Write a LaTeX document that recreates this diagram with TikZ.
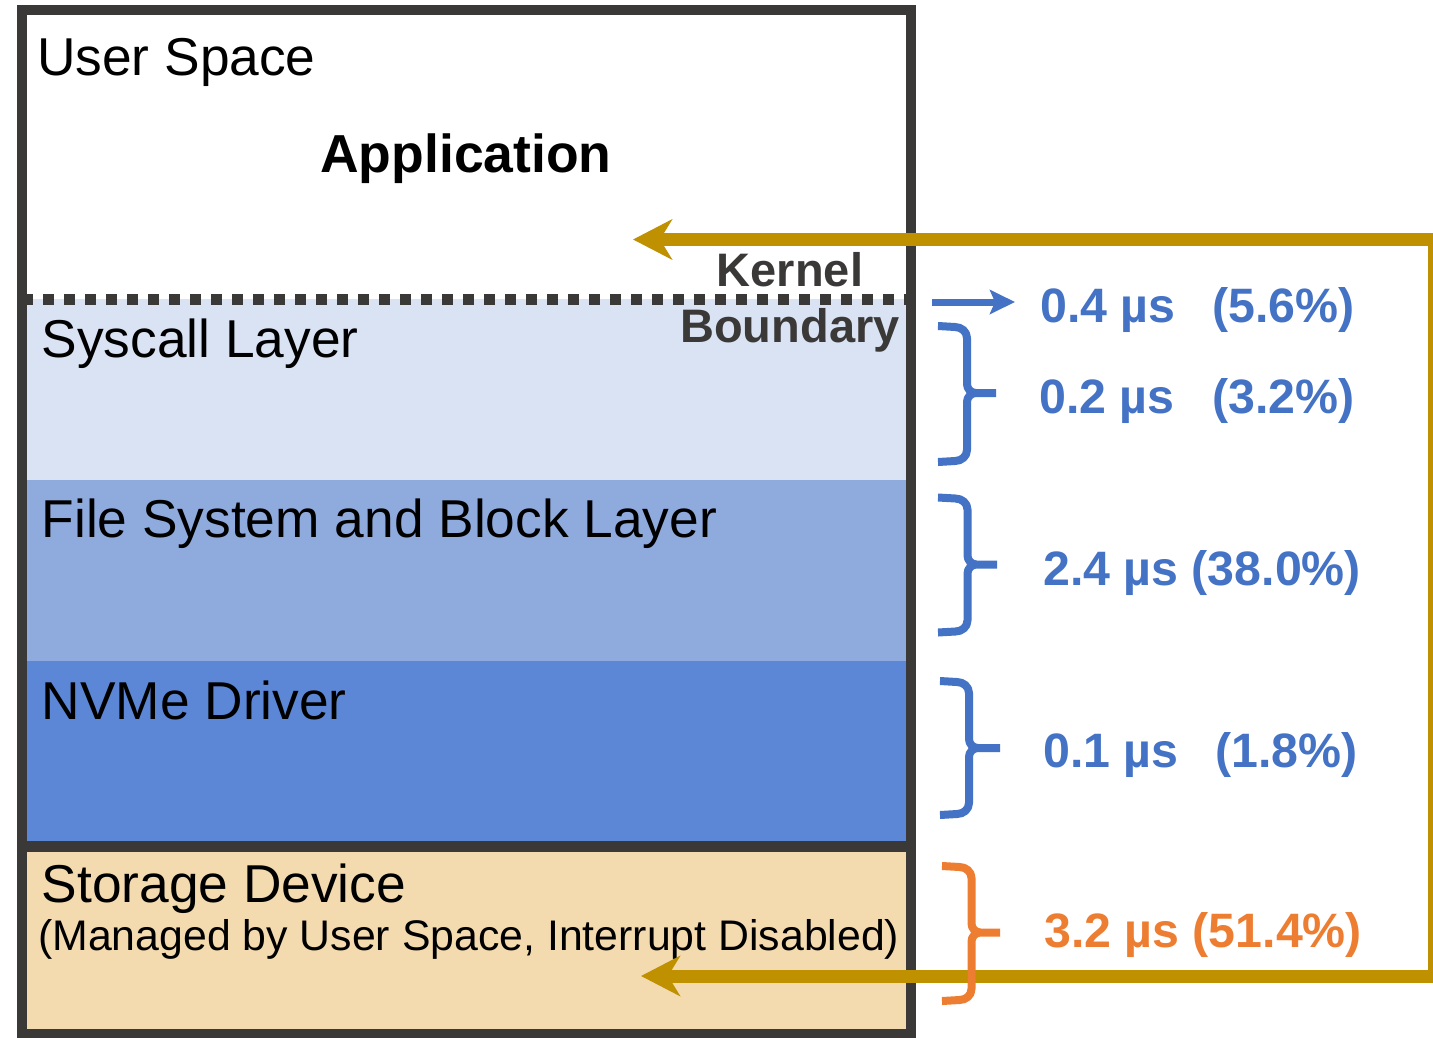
\documentclass[tikz,border=0pt]{standalone}
\usepackage{fontspec}
\setmainfont{Liberation Sans}
\usetikzlibrary{arrows.meta}
\definecolor{darkline}{HTML}{3B3838}
\definecolor{sysfill}{HTML}{DAE3F3}
\definecolor{fsfill}{HTML}{8FAADC}
\definecolor{nvmefill}{HTML}{5B87D6}
\definecolor{storfill}{HTML}{F3DAAF}
\definecolor{latblue}{HTML}{4472C4}
\definecolor{latorange}{HTML}{ED7D31}
\definecolor{retgold}{HTML}{BF9000}
\newcommand\latbrace[7]{%
  \draw[#1, line width=8, line cap=butt, line join=round]
    (#2,#5) -- (#3-12,#5+1) to[out=0,in=90] (#3,#5+12) -- (#3,#6-9)
    to[out=-90,in=180] (#3+9,#6) -- (#4,#6)
    (#3+9,#6) to[out=180,in=90] (#3,#6+9) -- (#3,#7-12)
    to[out=-90,in=0] (#3-12,#7-1) -- (#2,#7);}
\begin{document}
\begin{tikzpicture}[x=1pt,y=-1pt,
  layertext/.style={inner sep=0pt, anchor=base west, font=\fontsize{53.3}{60}\selectfont},
  subtext/.style={inner sep=0pt, anchor=base west, font=\fontsize{42.8}{50}\selectfont},
  boundtext/.style={inner sep=0pt, anchor=base, text=darkline, font=\fontsize{47}{55}\selectfont\bfseries},
  lattext/.style={inner sep=0pt, anchor=base west, font=\fontsize{48.3}{56}\selectfont\bfseries},
  goldarrow/.style={retgold, line width=13, line join=miter,
    {Stealth[length=39pt,width=40pt,inset=12pt]}-{Stealth[length=39pt,width=40pt,inset=12pt]}},
  bluearrow/.style={latblue, line width=7, -{Stealth[length=25pt,width=24pt,inset=5pt]}}]
\useasboundingbox (0,0) rectangle (1433,1037);
\fill[white] (0,0) rectangle (1433,1037);
% layer fills
\fill[sysfill] (22,299) rectangle (911,480);
\fill[fsfill] (22,480) rectangle (911,661);
\fill[nvmefill] (22,661) rectangle (911,846);
\fill[storfill] (22,846) rectangle (911,1034);
% boundaries
\draw[darkline, line width=11, dash pattern=on 11 off 10] (22,299) -- (906,299);
\draw[darkline, line width=11] (22,846.5) -- (911,846.5);
\draw[darkline, line width=10] (22,10) rectangle (911,1034);
% texts in the stack
\node[layertext] (user) at (37,75) {User Space};
\node[layertext, anchor=base, font=\fontsize{53.5}{60}\selectfont\bfseries] (app) at (466,172) {Application};
\node[boundtext] (kern) at (790,286) {Kernel};
\node[boundtext] (bound) at (790,342) {Boundary};
\node[layertext] (sys) at (41.5,357) {Syscall Layer};
\node[layertext] (fs) at (41.5,537) {File System and Block Layer};
\node[layertext] (nvme) at (41.5,719) {NVMe Driver};
\node[layertext] (stor) at (41.5,902) {Storage Device};
\node[subtext] (storsub) at (38,950) {(Managed by User Space, Interrupt Disabled)};
% return path
\coordinate (rettop) at (633,239.5);
\coordinate (retbot) at (641,976);
\draw[goldarrow] (rettop) -- (1434,239.5) -- (1434,976) -- (retbot);
% syscall arrow
\coordinate (sysfrom) at (932,302);
\coordinate (systo) at (1015,302);
\draw[bluearrow] (sysfrom) -- (systo);
% braces
\latbrace{latblue}{938}{967}{996}{326}{393}{462}
\latbrace{latblue}{938}{967.5}{997}{497.5}{564.5}{632.5}
\latbrace{latblue}{940}{969}{1000}{681}{748}{815}
\latbrace{latorange}{942}{971.5}{1000}{866}{932.5}{1001}
% latency labels
\node[lattext, text=latblue] (t1) at (1040,322) {\makebox[172pt][l]{0.4 µs}(5.6\%)};
\node[lattext, text=latblue] (t2) at (1039,413) {\makebox[173pt][l]{0.2 µs}(3.2\%)};
\node[lattext, text=latblue] (t3) at (1043,585) {2.4 µs (38.0\%)};
\node[lattext, text=latblue] (t4) at (1043,767) {\makebox[172pt][l]{0.1 µs}(1.8\%)};
\node[lattext, text=latorange] (t5) at (1044,947) {3.2 µs (51.4\%)};
\end{tikzpicture}
\end{document}
